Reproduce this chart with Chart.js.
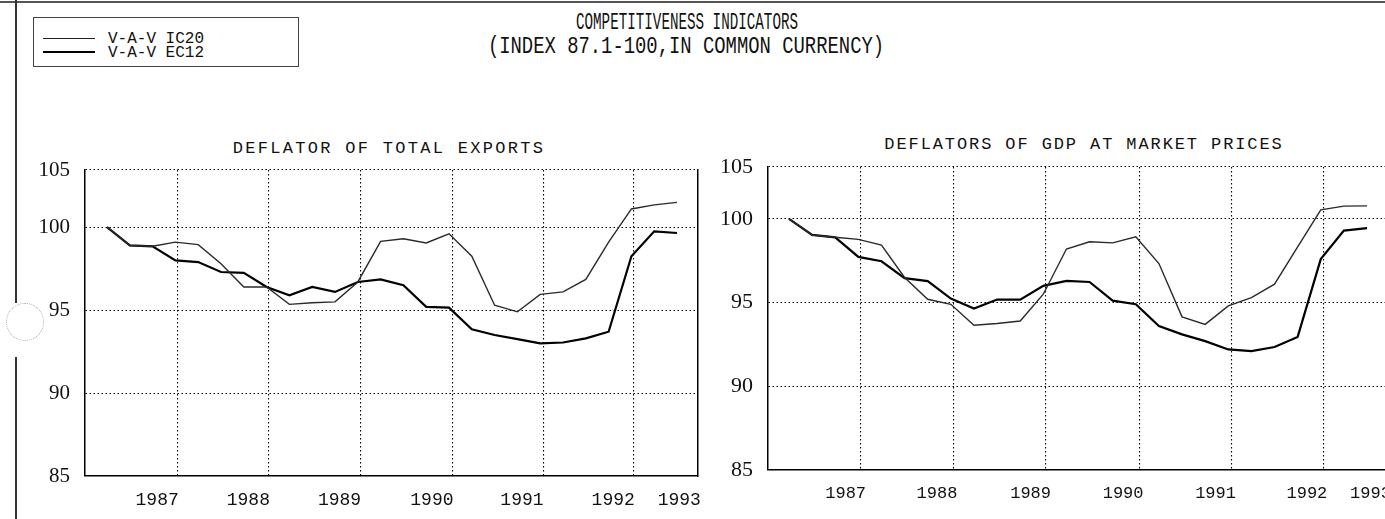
<!DOCTYPE html>
<html>
<head>
<meta charset="utf-8">
<script src="https://cdn.jsdelivr.net/npm/chart.js@4.4.1/dist/chart.umd.min.js"></script>
<style>
html,body{margin:0;padding:0;background:#fff;}
body{width:1385px;height:519px;overflow:hidden;position:relative;font-family:"Liberation Mono",monospace;color:#111;}
.t{position:absolute;white-space:nowrap;line-height:1;}
.c{transform-origin:50% 50%;}
canvas{position:absolute;}
.deco{position:absolute;background:#333;}
</style>
</head>
<body>
<div class="deco" style="left:0;top:1px;width:1385px;height:2px;background:#555"></div>
<div class="deco" style="left:15px;top:0;width:2px;height:303px"></div>
<div class="deco" style="left:15px;top:357px;width:2px;height:162px"></div>
<div style="position:absolute;left:6px;top:303px;width:36px;height:36px;border-radius:50%;border:1px dotted #aaa;"></div>

<div class="t c" style="left:687px;top:11px;font-size:24px;transform:translateX(-50%) scaleX(0.593)">COMPETITIVENESS INDICATORS</div>
<div class="t c" style="left:686px;top:35px;font-size:24px;transform:translateX(-50%) scaleX(0.786)">(INDEX 87.1-100,IN COMMON CURRENCY)</div>

<div style="position:absolute;left:33px;top:17px;width:264px;height:48px;border:1px solid #444;"></div>
<div style="position:absolute;left:43px;top:38px;width:52px;height:1px;background:#222"></div>
<div style="position:absolute;left:43px;top:51px;width:52px;height:2px;background:#000"></div>
<div id="lg0" class="t" style="left:108px;top:31px;font-size:16px;"></div>
<div id="lg1" class="t" style="left:108px;top:45px;font-size:16px;"></div>

<div class="t c" style="left:389px;top:140px;font-size:17px;letter-spacing:2.3px;transform:translateX(-50%)">DEFLATOR OF TOTAL EXPORTS</div>
<div class="t c" style="left:1084px;top:136px;font-size:17px;letter-spacing:1.9px;transform:translateX(-50%)">DEFLATORS OF GDP AT MARKET PRICES</div>

<canvas id="left" width="705" height="369" style="left:0;top:150px;width:705px;height:369px"></canvas>
<canvas id="right" width="688" height="369" style="left:700px;top:150px;width:688px;height:369px"></canvas>

<script>
// ---- data (quarterly, index 1987Q1 = 100) ----
const quarters = ['1987Q1','1987Q2','1987Q3','1987Q4','1988Q1','1988Q2','1988Q3','1988Q4',
  '1989Q1','1989Q2','1989Q3','1989Q4','1990Q1','1990Q2','1990Q3','1990Q4',
  '1991Q1','1991Q2','1991Q3','1991Q4','1992Q1','1992Q2','1992Q3','1992Q4','1993Q1','1993Q2'];

const seriesNames = ['V-A-V IC20', 'V-A-V EC12'];

// Deflator of total exports
const exportsIC20 = [100, 98.9, 98.85, 99.1, 98.95, 97.8, 96.4, 96.4, 95.35, 95.45, 95.5, 96.7, 99.15,
  99.3, 99.05, 99.6, 98.25, 95.3, 94.9, 95.95, 96.1, 96.85, 99.1, 101.1, 101.35, 101.5];
const exportsEC12 = [100, 98.9, 98.85, 98.0, 97.9, 97.3, 97.25, 96.4, 95.9, 96.4, 96.1, 96.7, 96.85,
  96.5, 95.2, 95.15, 93.85, 93.5, 93.25, 93.0, 93.05, 93.3, 93.7, 98.25, 99.75, 99.65];

// Deflators of GDP at market prices
const gdpIC20 = [100, 99.04, 98.9, 98.78, 98.43, 96.5, 95.2, 94.9, 93.65, 93.75, 93.9, 95.5, 98.2,
  98.63, 98.57, 98.93, 97.33, 94.15, 93.7, 94.8, 95.3, 96.1, 98.33, 100.54, 100.76, 100.78];
const gdpEC12 = [100, 99.04, 98.9, 97.73, 97.47, 96.46, 96.28, 95.24, 94.64, 95.18, 95.18, 96.0, 96.3,
  96.23, 95.12, 94.9, 93.6, 93.1, 92.7, 92.2, 92.1, 92.35, 92.95, 97.6, 99.3, 99.45];

// axis ticks
const yearLabels = ['1987', '1988', '1989', '1990', '1991', '1992', '1993'];
const yearGridAt = [3.1, 7.1, 11.1, 15.15, 19.15, 23.1];            // quarter-index of year grid lines
const exportsYearLabelAt = [2.2, 6.2, 10.2, 14.25, 18.2, 22.2, 25.1];
const gdpYearLabelAt = [2.45, 6.4, 10.45, 14.45, 18.45, 22.4, 25.15];
const yTickValues = [85, 90, 95, 100, 105];
const yTickLabels = ['85', '90', '95', '100', '105'];

document.getElementById('lg0').textContent = seriesNames[0];
document.getElementById('lg1').textContent = seriesNames[1];

function zeroPad(s) { s.paddingLeft = 0; s.paddingRight = 0; s.paddingTop = 0; s.paddingBottom = 0; }

function makeChart(id, ic20, ec12, labelAt, cfg) {
  const dotted = {display: true, color: '#000', width: 1.5, dash: [1.5, 2.5]};
  const scales = {
    x: {
      type: 'linear', position: 'bottom', min: cfg.xMin, max: cfg.xMax, weight: 0,
      afterBuildTicks: s => { s.ticks = yearGridAt.map(v => ({value: v})); },
      afterFit: s => { s.height = 0; zeroPad(s); },
      grid: {display: true, color: '#000', lineWidth: 1.1, drawTicks: false},
      border: dotted,
      ticks: {display: false, autoSkip: false}
    },
    xl: {
      type: 'linear', position: 'bottom', min: cfg.xMin, max: cfg.xMax, weight: 1,
      afterBuildTicks: s => { s.ticks = labelAt.map(v => ({value: v})); },
      afterFit: s => { s.height = cfg.xAxisHeight; zeroPad(s); },
      grid: {display: false, drawTicks: false},
      border: {display: false},
      ticks: {
        autoSkip: false, maxRotation: 0, minRotation: 0, padding: cfg.xLabelPad, color: '#111',
        font: {family: 'Liberation Mono', size: cfg.xFont},
        callback: (v, i) => yearLabels[i]
      }
    },
    y: {
      type: 'linear', position: 'left', min: cfg.yMin, max: cfg.yMax,
      afterBuildTicks: s => { s.ticks = yTickValues.map(v => ({value: Math.min(v, s.max)})); },
      afterFit: s => { s.width = cfg.yAxisWidth; zeroPad(s); },
      grid: {display: true, color: '#000', lineWidth: 1.1, drawTicks: false},
      border: dotted,
      ticks: {
        autoSkip: false, padding: 15, color: '#111',
        font: {family: 'Liberation Serif', size: cfg.yFont},
        callback: (v, i) => yTickLabels[i]
      }
    }
  };
  if (cfg.rightBorder) {
    scales.y2 = {
      type: 'linear', position: 'right', min: cfg.yMin, max: cfg.yMax,
      afterFit: s => { s.width = 0; zeroPad(s); },
      grid: {display: false, drawTicks: false},
      border: {display: true, color: '#000', width: 1.5},
      ticks: {display: false}
    };
  }
  return new Chart(document.getElementById(id), {
    type: 'line',
    data: {
      labels: quarters,
      datasets: [
        {label: seriesNames[0], data: ic20.map((v, i) => ({x: i, y: v})), xAxisID: 'x', yAxisID: 'y',
         borderColor: '#2a2a2a', borderWidth: 1.4, pointRadius: 0, tension: 0, fill: false},
        {label: seriesNames[1], data: ec12.map((v, i) => ({x: i, y: v})), xAxisID: 'x', yAxisID: 'y',
         borderColor: '#000', borderWidth: 2.2, pointRadius: 0, tension: 0, fill: false}
      ]
    },
    options: {
      responsive: false, animation: false, devicePixelRatio: 1,
      layout: {padding: {top: cfg.padTop, right: cfg.padRight, left: 0, bottom: 0}},
      plugins: {legend: {display: false}, tooltip: {enabled: false}, title: {display: false}},
      scales: scales
    }
  });
}

makeChart('left', exportsIC20, exportsEC12, exportsYearLabelAt, {
  xMin: -0.965, xMax: 25.92, yMin: 85, yMax: 103.45, yAxisWidth: 85, xAxisHeight: 43,
  padTop: 20, padRight: 7, xLabelPad: 13, xFont: 18, yFont: 21, rightBorder: true
});
makeChart('right', gdpIC20, gdpEC12, gdpYearLabelAt, {
  xMin: -0.908, xMax: 25.908, yMin: 85, yMax: 103.1, yAxisWidth: 68, xAxisHeight: 49,
  padTop: 17, padRight: 0, xLabelPad: 13, xFont: 17, yFont: 22, rightBorder: false
});
</script>
</body>
</html>
